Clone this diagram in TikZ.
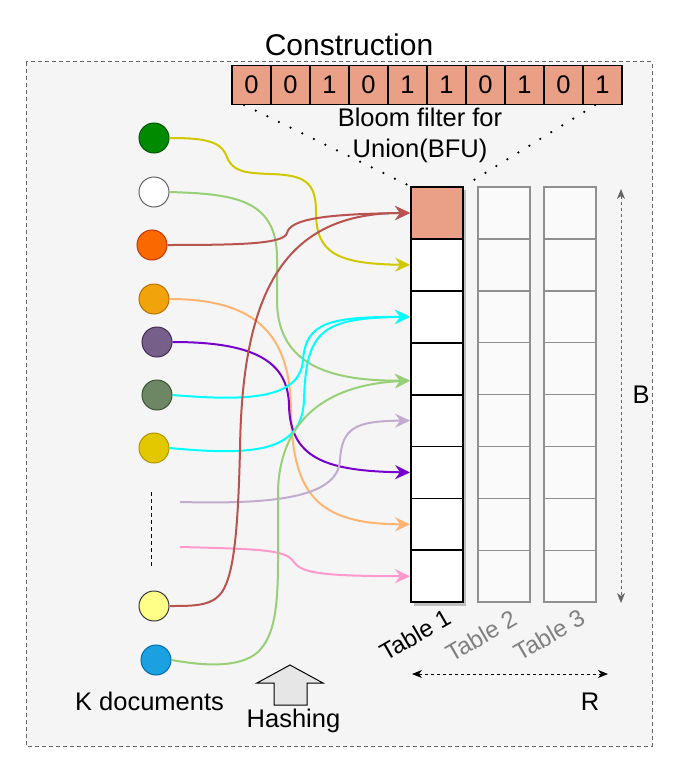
\documentclass[tikz,border=0pt]{standalone}
\usepackage{fontspec}
\setmainfont{Liberation Sans}
\usetikzlibrary{arrows.meta}
\definecolor{bfcell}{HTML}{EAA086}
\definecolor{framebg}{HTML}{F5F5F5}
\definecolor{framedraw}{HTML}{666666}
\definecolor{cellgrey}{HTML}{FAFAFA}
\definecolor{celldraw}{HTML}{909090}
\definecolor{labgrey}{HTML}{808080}
\definecolor{hashfill}{HTML}{E6E6E6}
% documents
\definecolor{dgreen}{HTML}{008A00}\definecolor{dgreenl}{HTML}{005700}
\definecolor{dwhite}{HTML}{FFFFFF}\definecolor{dwhitel}{HTML}{666666}
\definecolor{dorange}{HTML}{FA6800}\definecolor{dorangel}{HTML}{C73500}
\definecolor{damber}{HTML}{F0A30A}\definecolor{damberl}{HTML}{BD7000}
\definecolor{dviolet}{HTML}{76608A}\definecolor{dvioletl}{HTML}{432D57}
\definecolor{dolive}{HTML}{6D8764}\definecolor{dolivel}{HTML}{3A5431}
\definecolor{dyellow}{HTML}{E3C800}\definecolor{dyellowl}{HTML}{B09500}
\definecolor{dlemon}{HTML}{FFFF88}\definecolor{dlemonl}{HTML}{36393D}
\definecolor{dblue}{HTML}{1BA1E2}\definecolor{dbluel}{HTML}{006EAF}
% hash lines
\definecolor{hyellow}{HTML}{D0C800}
\definecolor{hred}{HTML}{B85450}
\definecolor{hgreen}{HTML}{97D077}
\definecolor{hcyan}{HTML}{00FFFF}
\definecolor{hpurple}{HTML}{7700CC}
\definecolor{horange}{HTML}{FFB570}
\definecolor{hlilac}{HTML}{C3ABD0}
\definecolor{hpink}{HTML}{FF99CC}
\tikzset{
  lbl/.style = {inner sep=0pt, font=\fontsize{25.5}{31}\selectfont},
  doc/.style = {circle, line width=1pt, minimum size=30pt, inner sep=0pt},
  bit/.style = {draw, line width=1.5pt, fill=bfcell, minimum width=39pt,
    minimum height=38.5pt, inner sep=0pt, font=\fontsize{25.5}{31}\selectfont},
  tcell/.style = {draw, line width=1.8pt, minimum width=52pt, minimum height=51.9pt},
  gcell/.style = {tcell, line width=1.5pt, draw=celldraw, fill=cellgrey},
  tlab/.style = {rotate=30, inner sep=0pt, font=\fontsize{24}{29}\selectfont},
  hashline/.style = {line width=2pt, ->, >={Stealth[length=15pt,width=14pt,inset=5pt]}},
  dim/.style = {line width=1pt, dash pattern=on 3pt off 3pt, <->,
    >={Stealth[length=10pt,width=8pt,inset=3pt]}}
}

\begin{document}
\begin{tikzpicture}[x=1pt,y=-1pt]
  \pgfmathsetmacro{\cellh}{51.9};
  \pgfmathsetmacro{\ttop}{187};
  \useasboundingbox (0,0) rectangle (676,784);
  % frame
  \draw[framedraw, fill=framebg, line width=1pt, dash pattern=on 4pt off 3pt] (26,62) rectangle (652,746);
  \node[lbl, anchor=base, font=\fontsize{30}{36}\selectfont] (title) at (349,56) {Construction};
  % bloom filter for union
  \foreach \b [count=\i] in {0,0,1,0,1,1,0,1,0,1} {%
    \node[bit] (b\i) at ({232+39*(\i-0.5)},85) {\raisebox{-2pt}{\b}};
  }
  \node[lbl, anchor=north, align=center] (bfu) at (420,107.5) {Bloom filter for\\Union(BFU)};
  % tables
  \fill[black!25] (414,{\ttop+3}) rectangle (466,{\ttop+8*\cellh+4});
  \foreach \i/\fc in {1/bfcell,2/white,3/white,4/white,5/white,6/white,7/white,8/white} {%
    \node[tcell, fill=\fc] (c\i) at (437,{\ttop+\cellh*(\i-0.5)}) {};
  }
  \foreach \t/\x in {2/504,3/570} {%
    \foreach \i in {1,...,8} {%
      \node[gcell] (t\t-\i) at (\x,{\ttop+\cellh*(\i-0.5)}) {};
    }
  }
  \node[tlab] (tab1) at (415,635) {Table 1};
  \node[tlab, labgrey] (tab2) at (481,636) {Table 2};
  \node[tlab, labgrey] (tab3) at (549,635) {Table 3};
  % bloom filter to table
  \draw[line width=2.5pt, line cap=round, dash pattern=on 0pt off 12.9pt] (b1.250) -- (c1.north west);
  \draw[line width=2.5pt, line cap=round, dash pattern=on 0pt off 12.9pt] (b10.250) -- (c1.north east);
  % sizes
  \coordinate (btop) at (621,189);
  \coordinate (bbot) at (621,603);
  \draw[dim, framedraw] (btop) -- (bbot);
  \node[lbl, anchor=base] (B) at (641,403) {B};
  \coordinate (rl) at (412,674);
  \coordinate (rr) at (608,674);
  \draw[dim] (rl) -- (rr);
  \node[lbl, anchor=base] (R) at (590,710) {R};
  % documents
  \foreach \n/\x/\y/\fc in {1/154/138/dgreen,2/154/192/dwhite,3/152/245/dorange,
      4/154/299/damber,5/157/342/dviolet,6/157/395/dolive,7/154/448/dyellow,
      8/154/606/dlemon,9/156/660/dblue} {%
    \node[doc, fill=\fc, draw=\fc l] (d\n) at (\x,\y) {};
  }
  \draw[line width=1pt, dash pattern=on 4pt off 3pt] (151,492) -- (151,566);
  \node[lbl, anchor=base] (kdocs) at (149.5,710) {K documents};
  % hashing
  \draw[fill=hashfill, line width=1pt] (290,665) -- (323,683) -- (307,683) -- (307,705)
    -- (274,705) -- (274,683) -- (257,683) -- cycle;
  \node[lbl, anchor=base] (hashing) at (293.5,727) {Hashing};
  % hash lines
  \coordinate (g4) at ([yshift=-12pt]c4.west);
  \coordinate (lfree) at (180,502);
  \coordinate (pfree) at (180,547);
  \draw[hashline, hyellow] (d1.east) .. controls (200,138) and (220,140) .. (226,155)
    .. controls (232,171) and (242,173) .. (270,174) .. controls (305,175) and (316,182) .. (316,212)
    .. controls (316,252) and (335,264) .. (c2.west);
  \draw[hashline, hgreen] (d2.east) .. controls (232,194) and (277,198) .. (277,258) -- (277,300)
    .. controls (277,368) and (335,381) .. (g4);
  \draw[hashline, hred] (d3.east) .. controls (240,245) and (284,244) .. (287,233)
    .. controls (290,220) and (320,214) .. (c1.west);
  \draw[hashline, horange] (d4.east) .. controls (262,299) and (290,340) .. (291,410)
    .. controls (292,495) and (318,524) .. (c7.west);
  \draw[hashline, hpurple] (d5.east) .. controls (252,342) and (288,360) .. (289,405)
    .. controls (290,458) and (325,471) .. (c6.west);
  \draw[hashline, hcyan] (d6.east) .. controls (245,401) and (300,400) .. (303,360)
    .. controls (306,322) and (330,317) .. (c3.west);
  \draw[hashline, hcyan] (d7.east) .. controls (255,456) and (302,452) .. (304,400)
    .. controls (306,330) and (322,318) .. (c3.west);
  \draw[hashline, hlilac] (lfree) .. controls (265,504) and (338,500) .. (340,460)
    .. controls (342,428) and (355,421) .. (c5.west);
  \draw[hashline, hpink] (pfree) .. controls (262,549) and (285,550) .. (293,561)
    .. controls (301,573) and (320,576) .. (c8.west);
  \draw[hashline, hred] (d8.east) .. controls (195,606) and (212,606) .. (222,592)
    .. controls (234,574) and (238,530) .. (240,450) .. controls (242,290) and (285,213) .. (c1.west);
  \draw[hashline, hgreen] (d9.east) .. controls (205,666) and (240,668) .. (258,652)
    .. controls (274,636) and (278,610) .. (278,560) -- (278,490)
    .. controls (280,430) and (315,385) .. (g4);
\end{tikzpicture}
\end{document}
